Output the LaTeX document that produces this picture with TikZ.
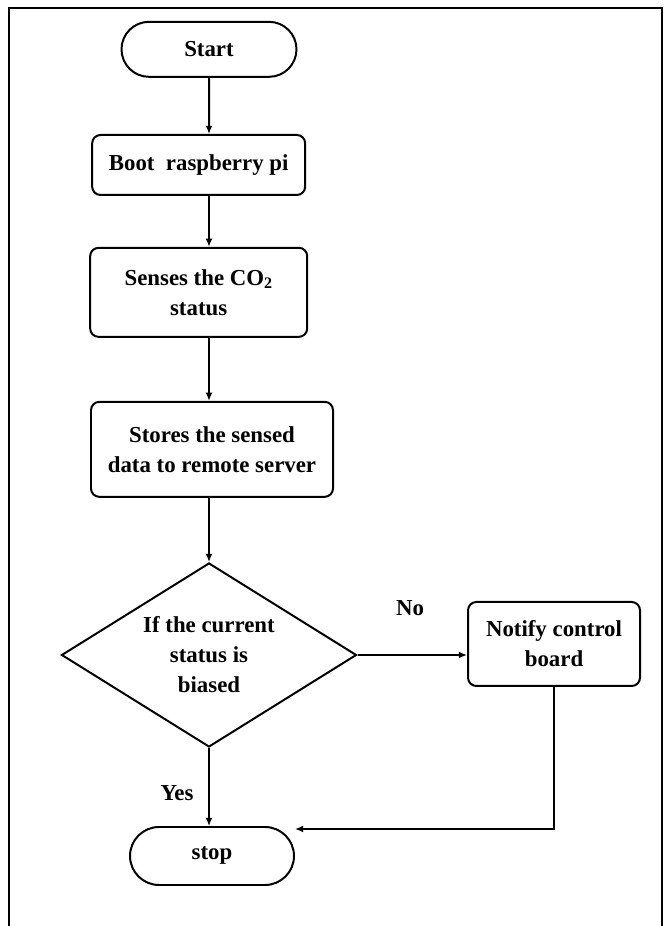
\documentclass[tikz,border=0pt]{standalone}
\usepackage{fontspec}
\setmainfont{Liberation Serif}
\usetikzlibrary{shapes.geometric,shapes.misc,arrows.meta}

\begin{document}
\begin{tikzpicture}[
    every node/.style={font=\fontsize{19.5}{25.6}\selectfont\bfseries, align=center},
    terminal/.style={draw, line width=1.7pt, rounded rectangle, inner sep=0pt},
    process/.style={draw, line width=1.7pt, rectangle, rounded corners=0.25cm, inner sep=0pt},
    decision/.style={draw, line width=1.7pt, diamond, aspect=1.6, inner sep=0pt},
    flow/.style={line width=1.7pt, -{Latex[length=7pt,width=6pt]}}
  ]
    % page size and the frame round the chart
    \useasboundingbox (0,0) rectangle (20.01,27.78);
    \draw[line width=1.7pt] (0.27,0) -- (0.27,27.54) -- (19.86,27.54) -- (19.86,0);

    % the column where the main arrows run
    \coordinate (col) at (6.27,0);

    % the steps of the chart
    \node[terminal, minimum width=5.25cm, minimum height=1.65cm] (start) at (6.27,26.30) {Start};
    \node[process, minimum width=6.39cm, minimum height=1.8cm] (boot) at (5.96,22.83) {Boot~ raspberry pi};
    \node[process, minimum width=6.51cm, minimum height=2.67cm] (sense) at (5.96,19.01) {Senses the CO\textsubscript{2}\\status};
    \node[process, minimum width=7.26cm, minimum height=2.85cm] (store) at (6.36,14.30) {Stores the sensed\\data to remote server};
    \node[decision, minimum width=8.85cm, minimum height=5.52cm] (cond) at (6.27,8.13) {If the current\\status is\\biased};
    \node[process, minimum width=5.16cm, minimum height=2.52cm] (notify) at (16.62,8.46) {Notify control\\board};
    \node[terminal, minimum width=4.92cm, minimum height=1.74cm] (stop) at (6.36,2.10) {stop};

    % the labels of the branches
    \node (no) at (12.30,9.54) {No};
    \node (yes) at (5.31,3.99) {Yes};

    % free end of the way back from the notify box
    \coordinate (back) at (8.85,2.91);

    % draw the arrows
    \draw[flow] (start) -- (start |- boot.north);
    \draw[flow] (boot.south -| col) -- (sense.north -| col);
    \draw[flow] (sense.south -| col) -- (store.north -| col);
    \draw[flow] (store.south -| col) -- (cond.north);
    \draw[flow] (cond.east) -- (cond.east -| notify.west);
    \draw[flow] (cond) -- (cond |- stop.north);
    \draw[flow] (notify.south) |- (back);

\end{tikzpicture}
\end{document}
